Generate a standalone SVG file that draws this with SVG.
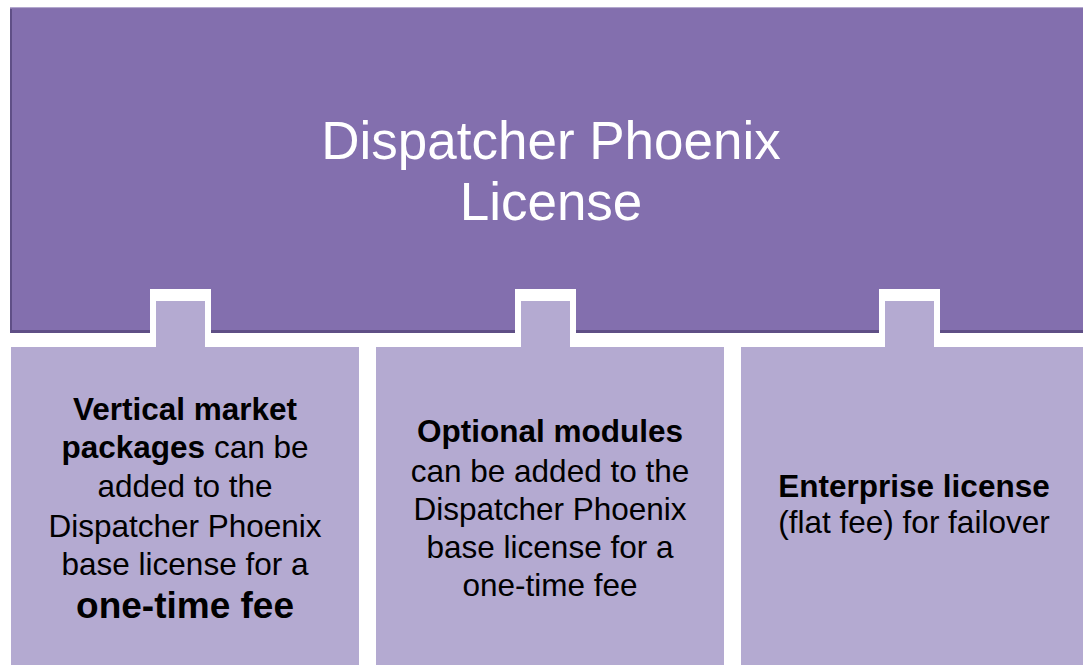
<svg xmlns="http://www.w3.org/2000/svg" width="1083" height="665" viewBox="0 0 1083 665">
<style>
.top{fill:#836FAE}
.box{fill:#B4AAD1}
.gap{fill:#FFFFFF}
.title{font-family:"Liberation Sans",Arial,sans-serif;font-size:53px;fill:#FFFFFF;text-anchor:middle}
.t{font-family:"Liberation Sans",Arial,sans-serif;font-size:31.5px;fill:#000000;text-anchor:middle}
.b{font-weight:bold}
.big{font-size:37px;font-weight:bold}
</style>
<rect width="1083" height="665" fill="#FFFFFF"/>
<g id="header">
<rect x="10" y="7" width="1073" height="326" fill="#5F4F86"/>
<rect x="10" y="7" width="1073" height="1.5" fill="#B3A7CF"/>
<rect x="12" y="8.5" width="1071" height="321.5" class="top"/>
<text class="title" x="551" y="159">Dispatcher Phoenix</text>
<text class="title" x="551" y="220">License</text>
</g>
<g id="connectors"></g>
<g id="box1">
<rect x="150" y="289" width="61" height="60" class="gap"/>
<path class="box" d="M11,347 H156 V301 H205 V347 H359 V665 H11 Z"/>
<text class="t" x="185" y="420"><tspan class="b">Vertical market</tspan></text>
<text class="t" x="185" y="458"><tspan class="b">packages</tspan> can be</text>
<text class="t" x="185" y="497">added to the</text>
<text class="t" x="185" y="537">Dispatcher Phoenix</text>
<text class="t" x="185" y="575">base license for a</text>
<text class="t big" x="185" y="618">one-time fee</text>
</g>
<g id="box2">
<rect x="515" y="289" width="61" height="60" class="gap"/>
<path class="box" d="M376,347 H521 V301 H570 V347 H724 V665 H376 Z"/>
<text class="t b" x="550" y="442">Optional modules</text>
<text class="t" x="550" y="482">can be added to the</text>
<text class="t" x="550" y="520">Dispatcher Phoenix</text>
<text class="t" x="550" y="558">base license for a</text>
<text class="t" x="550" y="596">one-time fee</text>
</g>
<g id="box3">
<rect x="879" y="289" width="61" height="60" class="gap"/>
<path class="box" d="M741,347 H885 V301 H934 V347 H1083 V665 H741 Z"/>
<text class="t b" x="914" y="497">Enterprise license</text>
<text class="t" x="914" y="533">(flat fee) for failover</text>
</g>
</svg>
